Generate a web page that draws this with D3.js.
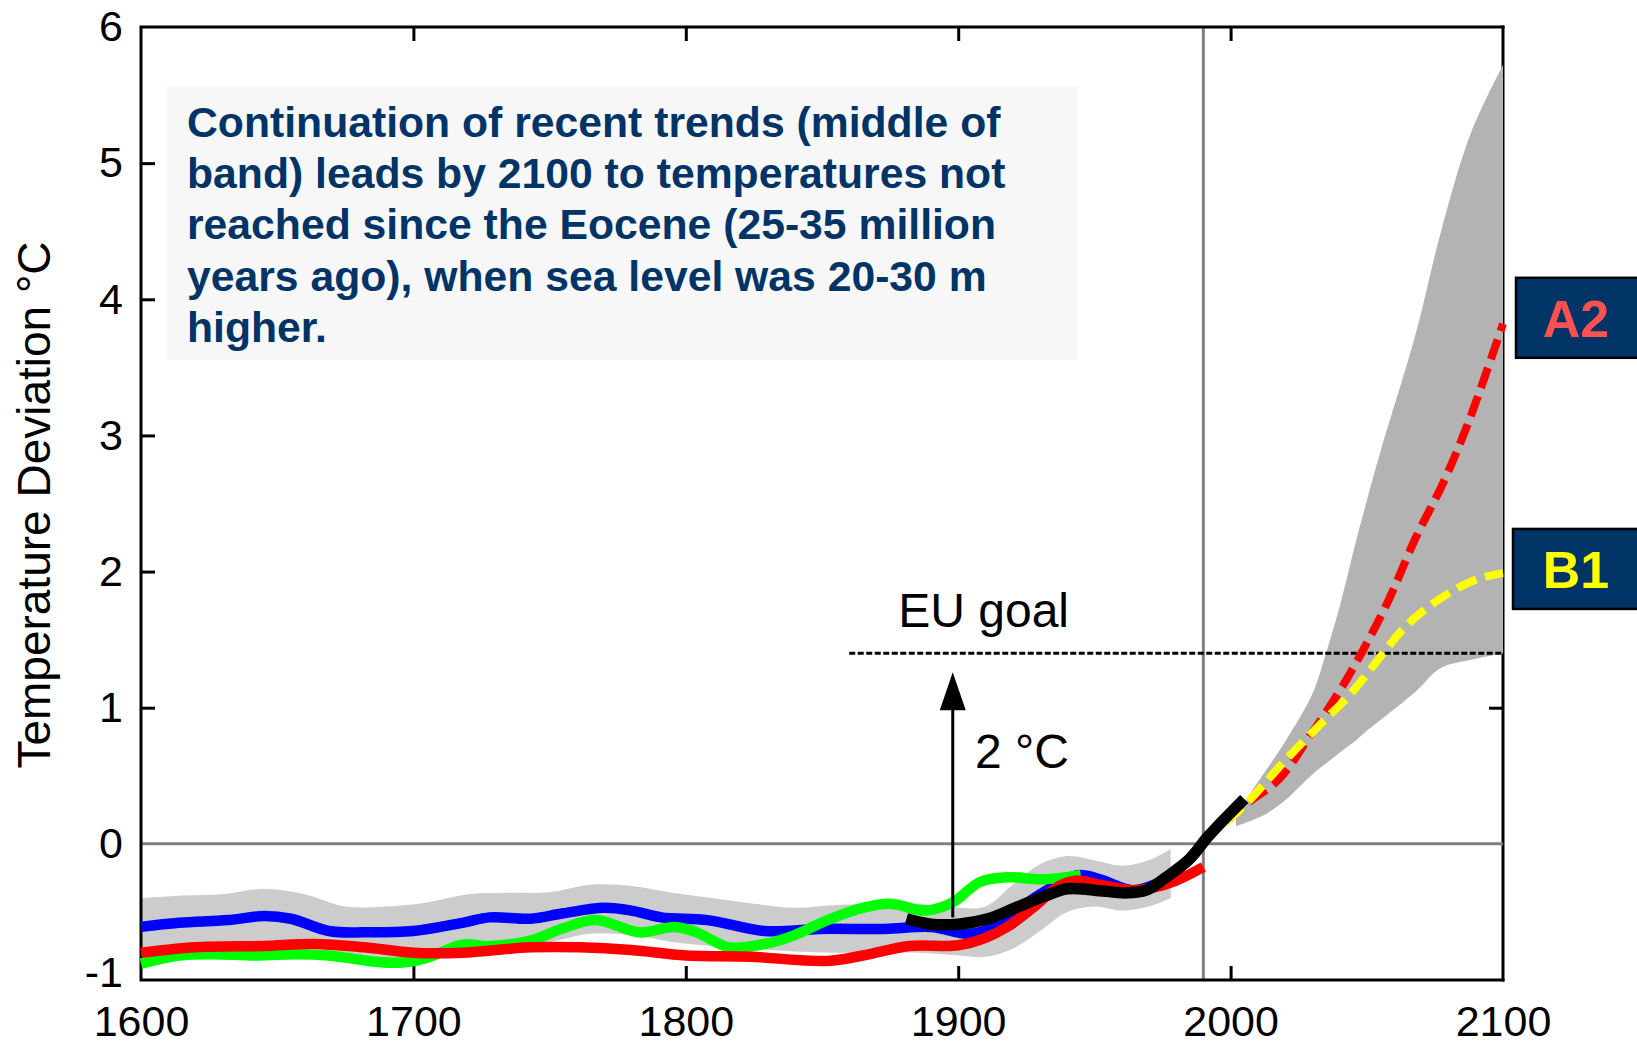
<!DOCTYPE html>
<html>
<head>
<meta charset="utf-8">
<script src="https://cdn.jsdelivr.net/npm/d3@7"></script>
<style>
  html, body { margin: 0; padding: 0; background: #ffffff; }
  svg { display: block; }
  text { font-family: "Liberation Sans", Arial, Helvetica, sans-serif; }
</style>
</head>
<body>
<svg id="chart" width="1637" height="1045"></svg>
<script>
// ---- axis ticks ----
const xTickValues = [1600, 1700, 1800, 1900, 2000, 2100];
const yTickValues = [-1, 0, 1, 2, 3, 4, 5, 6];

// ---- reconstruction spread (light grey band) ----
const bandYears = [1600,1615,1630,1645,1660,1675,1690,1705,1720,1735,1750,1765,1780,1795,1810,1825,1840,1855,1870,1885,1900,1910,1920,1930,1940,1950,1960,1970,1978];
const bandUpper = [-0.40,-0.38,-0.37,-0.33,-0.37,-0.46,-0.46,-0.43,-0.37,-0.36,-0.355,-0.30,-0.31,-0.36,-0.40,-0.44,-0.47,-0.45,-0.44,-0.44,-0.47,-0.46,-0.30,-0.15,-0.09,-0.12,-0.16,-0.12,-0.04];
const bandLower = [-0.79,-0.78,-0.77,-0.75,-0.76,-0.80,-0.84,-0.82,-0.78,-0.75,-0.72,-0.66,-0.67,-0.72,-0.75,-0.77,-0.79,-0.80,-0.80,-0.80,-0.82,-0.83,-0.77,-0.64,-0.50,-0.46,-0.49,-0.46,-0.40];

// ---- reconstructions ----
const blueYears  = [1600,1614,1632,1645,1655,1669,1682,1700,1718,1728,1743,1755,1770,1780,1791,1808,1829,1849,1873,1890,1903,1911,1922,1931,1944,1952,1964,1972,1980];
const blueValues = [-0.61,-0.58,-0.56,-0.53,-0.55,-0.64,-0.65,-0.64,-0.58,-0.54,-0.55,-0.51,-0.47,-0.49,-0.54,-0.56,-0.64,-0.625,-0.625,-0.61,-0.66,-0.63,-0.48,-0.36,-0.23,-0.26,-0.34,-0.30,-0.20];

const greenYears  = [1600,1614,1626,1642,1657,1669,1688,1697,1706,1718,1728,1743,1755,1767,1783,1796,1804,1816,1829,1840,1852,1865,1875,1888,1898,1908,1918,1931,1945];
const greenValues = [-0.88,-0.82,-0.81,-0.82,-0.81,-0.82,-0.87,-0.87,-0.83,-0.74,-0.75,-0.71,-0.62,-0.56,-0.65,-0.61,-0.65,-0.76,-0.735,-0.67,-0.56,-0.47,-0.44,-0.49,-0.43,-0.28,-0.245,-0.26,-0.23];

const redYears  = [1600,1620,1645,1663,1682,1700,1718,1743,1761,1780,1800,1824,1852,1865,1882,1900,1910,1918,1928,1937,1943,1952,1964,1972,1980,1990];
const redValues = [-0.80,-0.76,-0.75,-0.735,-0.76,-0.80,-0.80,-0.76,-0.76,-0.78,-0.82,-0.83,-0.86,-0.82,-0.75,-0.745,-0.69,-0.61,-0.46,-0.31,-0.27,-0.30,-0.34,-0.32,-0.27,-0.17];

// ---- instrumental record ----
const blackYears  = [1881,1890,1900,1911,1921,1931,1940,1950,1962,1969,1976,1985,1992,2005];
const blackValues = [-0.55,-0.59,-0.59,-0.55,-0.47,-0.39,-0.33,-0.34,-0.36,-0.34,-0.25,-0.11,0.06,0.33];

// ---- projections ----
const projYears = [2002,2013,2020,2030,2035,2040,2046,2050,2055,2068,2077,2088,2100];
const projUpper = [0.22,0.54,0.75,1.10,1.40,1.74,2.22,2.52,2.88,3.75,4.48,5.21,5.72];
const projLower = [0.13,0.22,0.32,0.51,0.59,0.67,0.76,0.83,0.91,1.12,1.29,1.35,1.40];

const a2Years  = [1990,2005,2018,2029,2039,2048,2058,2068,2078,2087,2100];
const a2Values = [0.02,0.28,0.48,0.79,1.09,1.40,1.79,2.25,2.65,3.08,3.82];

const b1Years  = [1990,2005,2019,2034,2044,2056,2063,2070,2080,2090,2100];
const b1Values = [0.02,0.28,0.59,0.90,1.10,1.40,1.57,1.70,1.84,1.94,1.99];

const euGoal = 1.4;
const euGoalStart = 1860;
const presentYear = 1990;
const warmingArrow = { year: 1898, from: -0.54, to: 1.26 };

const noteLines = [
  "Continuation of recent trends (middle of",
  "band) leads by 2100 to temperatures not",
  "reached since the Eocene (25-35 million",
  "years ago), when sea level was 20-30 m",
  "higher."
];

// ---- layout ----
const svg = d3.select("#chart");
const x = d3.scaleLinear().domain([1600, 2100]).range([141, 1503]);
const y = d3.scaleLinear().domain([-1, 6]).range([980, 27]);
const X0 = x(1600), X1 = x(2100), Y0 = y(-1), Y1 = y(6);

const zip = (xs, vs) => xs.map((d, i) => [d, vs[i]]);
const lineGen = d3.line().x(d => x(d[0])).y(d => y(d[1])).curve(d3.curveCatmullRom.alpha(0.5));
const areaGen = d3.area().x(d => x(d.year)).y0(d => y(d.lo)).y1(d => y(d.hi)).curve(d3.curveCatmullRom.alpha(0.5));
const plainInt = d => (d < 0 ? "-" : "") + Math.abs(d);

// note box
const note = svg.append("g");
note.append("rect").attr("x", 167).attr("y", 86).attr("width", 911).attr("height", 274).attr("fill", "#f7f7f7");
note.selectAll("text").data(noteLines).join("text")
  .attr("x", 187).attr("y", (d, i) => 137 + i * 51.2)
  .attr("fill", "#003366").attr("font-weight", "bold").attr("font-size", 42.7)
  .text(d => d);

// right frame edge sits under the projection band
svg.append("line").attr("x1", X1).attr("x2", X1).attr("y1", Y1 - 1.5).attr("y2", Y0 + 1.5)
  .attr("stroke", "#000").attr("stroke-width", 3);

// inward ticks (all four sides)
const tickSel = g => g.call(s => s.select(".domain").remove()).selectAll("line").attr("stroke", "#000").attr("stroke-width", 3);
svg.append("g").attr("transform", `translate(0,${Y0})`)
  .call(d3.axisBottom(x).tickValues(xTickValues.slice(1, -1)).tickSizeInner(-14).tickSizeOuter(0).tickFormat(""))
  .call(tickSel);
svg.append("g").attr("transform", `translate(0,${Y1})`)
  .call(d3.axisTop(x).tickValues(xTickValues.slice(1, -1)).tickSizeInner(-14).tickSizeOuter(0).tickFormat(""))
  .call(tickSel);
svg.append("g").attr("transform", `translate(${X0},0)`)
  .call(d3.axisLeft(y).tickValues(yTickValues.slice(2, -1)).tickSizeInner(-14).tickSizeOuter(0).tickFormat(""))
  .call(tickSel);
svg.append("g").attr("transform", `translate(${X1},0)`)
  .call(d3.axisRight(y).tickValues(yTickValues.slice(2, -1)).tickSizeInner(-14).tickSizeOuter(0).tickFormat(""))
  .call(tickSel);

// tick labels
const labelSel = g => g.call(s => s.select(".domain").remove())
  .call(s => s.selectAll("line").remove())
  .selectAll("text").attr("font-size", 43).attr("fill", "#000")
  .attr("font-family", "'Liberation Sans', Arial, Helvetica, sans-serif");
svg.append("g").attr("transform", `translate(0,${Y0})`)
  .call(d3.axisBottom(x).tickValues(xTickValues).tickSize(0).tickPadding(25).tickFormat(plainInt))
  .call(labelSel);
const yLabels = svg.append("g").attr("transform", `translate(${X0},0)`)
  .call(d3.axisLeft(y).tickValues(yTickValues).tickSize(0).tickPadding(18).tickFormat(plainInt));
yLabels.call(labelSel);
// the bottom-most label sits a little higher, clear of the year labels
yLabels.selectAll(".tick").filter(d => d === -1).select("text").attr("y", -7);

// y-axis title
svg.append("text").attr("transform", "translate(50,505) rotate(-90)")
  .attr("text-anchor", "middle").attr("font-size", 46).attr("fill", "#000")
  .text("Temperature Deviation °C");

// reconstruction spread
svg.append("path")
  .datum(bandYears.map((d, i) => ({ year: d, lo: bandLower[i], hi: bandUpper[i] })))
  .attr("d", areaGen).attr("fill", "#cccccc");

// reference lines: zero and present day
svg.append("line").attr("x1", X0).attr("x2", X1).attr("y1", y(0)).attr("y2", y(0))
  .attr("stroke", "#808080").attr("stroke-width", 3);
svg.append("line").attr("x1", x(presentYear)).attr("x2", x(presentYear)).attr("y1", Y1).attr("y2", Y0)
  .attr("stroke", "#808080").attr("stroke-width", 3);

// projection range
svg.append("path")
  .datum(projYears.map((d, i) => ({ year: d, lo: projLower[i], hi: projUpper[i] })))
  .attr("d", areaGen).attr("fill", "#b3b3b3");

// frame: left, top, bottom
svg.append("path")
  .attr("d", `M${X1},${Y1}H${X0}V${Y0}H${X1}`)
  .attr("fill", "none").attr("stroke", "#000").attr("stroke-width", 3).attr("stroke-linecap", "square");

// EU goal line
svg.append("line").attr("x1", x(euGoalStart)).attr("x2", X1).attr("y1", y(euGoal)).attr("y2", y(euGoal))
  .attr("stroke", "#000").attr("stroke-width", 3).attr("stroke-dasharray", "6,2.5");
svg.append("text").attr("x", x(1878)).attr("y", y(euGoal) - 26)
  .attr("font-size", 48).attr("fill", "#000").text("EU goal");

// reconstructions
const drawLine = (xs, vs, color, w, dash) => {
  const p = svg.append("path").datum(zip(xs, vs)).attr("d", lineGen)
    .attr("fill", "none").attr("stroke", color).attr("stroke-width", w)
    .attr("stroke-linejoin", "round");
  if (dash) p.attr("stroke-dasharray", dash);
  return p;
};
drawLine(blueYears, blueValues, "#0000ff", 10.5);
drawLine(greenYears, greenValues, "#00ff00", 10.5);
drawLine(redYears, redValues, "#ff0000", 10.5);

// scenarios
drawLine(a2Years, a2Values, "#ff0000", 8, "21,9");
drawLine(b1Years, b1Values, "#ffff00", 8, "21,9");

// instrumental record
drawLine(blackYears, blackValues, "#000000", 11.5);

// 2 degree arrow
const ax = x(warmingArrow.year), aTop = y(warmingArrow.to), aBot = y(warmingArrow.from);
svg.append("line").attr("x1", ax).attr("x2", ax).attr("y1", aBot).attr("y2", aTop + 30)
  .attr("stroke", "#000").attr("stroke-width", 3);
svg.append("path").attr("d", `M${ax},${aTop}L${ax + 13},${aTop + 38}L${ax - 13},${aTop + 38}Z`).attr("fill", "#000");
svg.append("text").attr("x", x(1906.2)).attr("y", y(0.56))
  .attr("font-size", 48).attr("fill", "#000").text("2 °C");

// scenario labels
const scenarioLabels = [
  { name: "A2", value: a2Values[a2Values.length - 1], color: "#ff5050", bx: 1516, dy: -6 },
  { name: "B1", value: b1Values[b1Values.length - 1], color: "#ffff00", bx: 1513, dy: -4 }
];
scenarioLabels.forEach(s => {
  const cy = y(s.value) + s.dy;
  svg.append("rect").attr("x", s.bx).attr("y", cy - 40).attr("width", 135).attr("height", 80)
    .attr("fill", "#003366").attr("stroke", "#000").attr("stroke-width", 2.5);
  svg.append("text").attr("x", 1576).attr("y", cy + 19).attr("text-anchor", "middle")
    .attr("font-size", 52).attr("font-weight", "bold").attr("fill", s.color).text(s.name);
});
</script>
</body>
</html>
